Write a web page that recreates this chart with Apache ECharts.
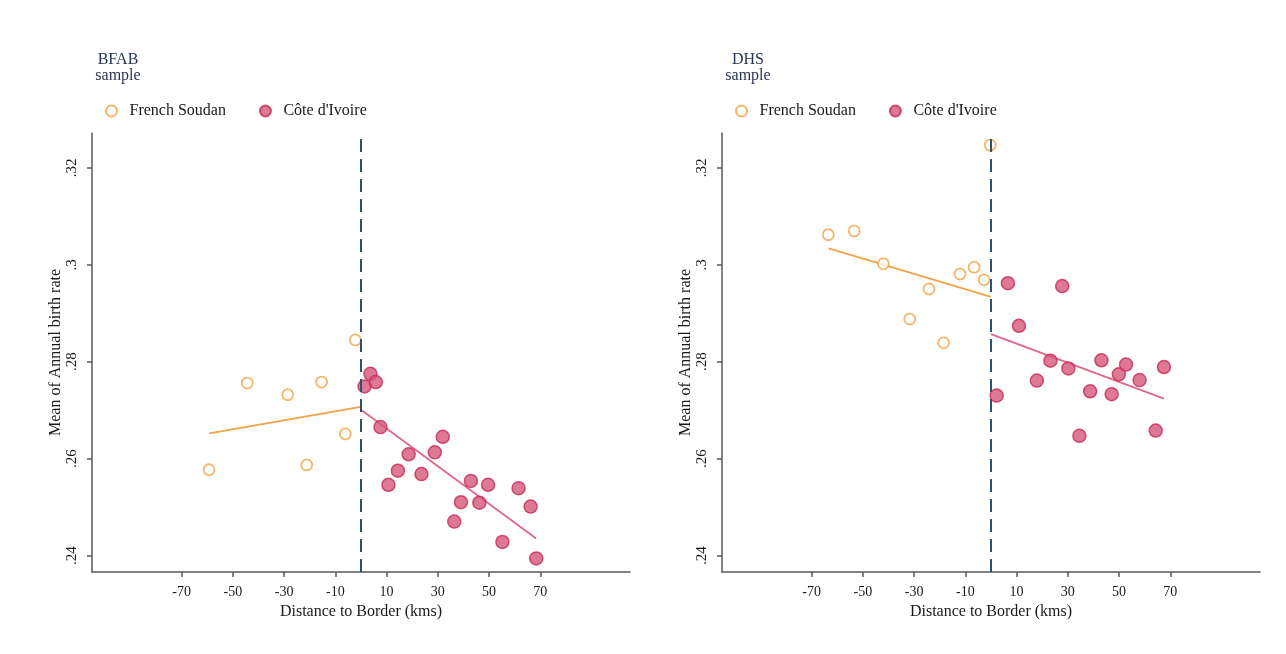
<!DOCTYPE html>
<html>
<head>
<meta charset="utf-8">
<script src="https://cdn.jsdelivr.net/npm/echarts@6/dist/echarts.min.js"></script>
<style>
  html, body { margin: 0; padding: 0; background: #ffffff; }
  #chart { width: 1286px; height: 654px; }
</style>
</head>
<body>
<div id="chart"></div>
<script>
// ---- data ----
const xTickValues = [-70, -50, -30, -10, 10, 30, 50, 70];
const yTickValues = [0.24, 0.26, 0.28, 0.30, 0.32];
const yTickLabels = ['.24', '.26', '.28', '.3', '.32'];
const seriesNames = ['French Soudan', "Côte d'Ivoire"];
const panelTitles = ['BFAB\nsample', 'DHS\nsample'];
const xAxisTitle = 'Distance to Border (kms)';
const yAxisTitle = 'Mean of Annual birth rate';

// BFAB sample
const bfabSoudan = [
  [-59.3, 0.2577], [-44.4, 0.2756], [-28.6, 0.2732], [-21.2, 0.2587],
  [-15.4, 0.2758], [-6.1, 0.2651], [-2.2, 0.2845]
];
const bfabIvoire = [
  [1.4, 0.2749], [3.7, 0.2775], [5.8, 0.2758], [7.6, 0.2665], [10.7, 0.2546],
  [14.4, 0.2575], [18.6, 0.2609], [23.6, 0.2568], [28.8, 0.2613], [31.9, 0.2645],
  [36.4, 0.2470], [39.0, 0.2510], [42.9, 0.2554], [46.2, 0.2509], [49.6, 0.2546],
  [55.2, 0.2428], [61.5, 0.2539], [66.2, 0.2501], [68.4, 0.2394]
];
const bfabSoudanFit = [[-59.2, 0.2652], [-0.1, 0.2707]];
const bfabIvoireFit = [[0.0, 0.2701], [68.4, 0.2435]];

// DHS sample
const dhsSoudan = [
  [-63.5, 0.3062], [-53.4, 0.3070], [-42.0, 0.3002], [-31.7, 0.2888],
  [-24.2, 0.2950], [-18.5, 0.2839], [-12.1, 0.2981], [-6.6, 0.2995],
  [-2.7, 0.2969], [-0.3, 0.3247]
];
const dhsIvoire = [
  [2.2, 0.2730], [6.6, 0.2962], [10.9, 0.2874], [17.9, 0.2761], [23.2, 0.2802],
  [27.8, 0.2956], [30.2, 0.2786], [34.5, 0.2647], [38.7, 0.2739], [43.1, 0.2803],
  [47.1, 0.2733], [49.9, 0.2774], [52.7, 0.2794], [58.0, 0.2762], [64.3, 0.2658],
  [67.5, 0.2789]
];
const dhsSoudanFit = [[-63.3, 0.3034], [0.0, 0.2934]];
const dhsIvoireFit = [[0.0, 0.2857], [67.5, 0.2724]];

// ---- styles ----
const FONT = '"Liberation Serif", "Times New Roman", serif';
const ORANGE = '#f0a447';
const RED_FILL = '#d4577a';
const RED_BORDER = '#c52a52';
const RED_LINE = '#e0678a';
const AXIS_COLOR = '#5a5a5a';
const TEXT_COLOR = '#1a1a1a';
const NAVY = '#2a3556';
const DASH_COLOR = '#2f5073';

const grids = [
  { left: 92, right: 656, top: 133, bottom: 82 },
  { left: 722, right: 26, top: 133, bottom: 82 }
];

function xAxisFor(i) {
  return {
    gridIndex: i, type: 'value', min: -105, max: 105,
    name: xAxisTitle, nameLocation: 'middle', nameGap: 26,
    nameTextStyle: { fontFamily: FONT, fontSize: 16, color: TEXT_COLOR },
    axisLine: { show: true, onZero: false, lineStyle: { color: AXIS_COLOR, width: 1.5 } },
    axisTick: { show: true, length: 5, customValues: xTickValues, lineStyle: { color: AXIS_COLOR, width: 1.5 } },
    axisLabel: { customValues: xTickValues, margin: 13, fontFamily: FONT, fontSize: 14, color: TEXT_COLOR },
    splitLine: { show: false }
  };
}
function yAxisFor(i) {
  return {
    gridIndex: i, type: 'value', min: 0.2366, max: 0.3272,
    name: yAxisTitle, nameLocation: 'middle', nameGap: 27,
    nameTextStyle: { fontFamily: FONT, fontSize: 16, color: TEXT_COLOR },
    axisLine: { show: true, onZero: false, lineStyle: { color: AXIS_COLOR, width: 1.5 } },
    axisTick: { show: true, length: 5, customValues: yTickValues, lineStyle: { color: AXIS_COLOR, width: 1.5 } },
    axisLabel: {
      customValues: yTickValues, rotate: 90, margin: 12,
      fontFamily: FONT, fontSize: 15, color: TEXT_COLOR,
      formatter: function (v) {
        const idx = yTickValues.findIndex(t => Math.abs(t - v) < 1e-9);
        return idx >= 0 ? yTickLabels[idx] : '';
      }
    },
    splitLine: { show: false }
  };
}

function panelSeries(i, soudan, ivoire, soudanFit, ivoireFit) {
  return [
    {
      name: seriesNames[1] + '_fit', type: 'line', xAxisIndex: i, yAxisIndex: i,
      data: ivoireFit, symbol: 'none', silent: true,
      lineStyle: { color: RED_LINE, width: 1.8 }, z: 2
    },
    {
      name: seriesNames[0] + '_fit', type: 'line', xAxisIndex: i, yAxisIndex: i,
      data: soudanFit, symbol: 'none', silent: true,
      lineStyle: { color: ORANGE, width: 1.8 }, z: 2,
      markLine: {
        silent: true, symbol: 'none', label: { show: false },
        lineStyle: { color: DASH_COLOR, width: 2, type: [13, 7] },
        data: [{ xAxis: 0 }], animation: false
      }
    },
    {
      name: seriesNames[0], type: 'scatter', xAxisIndex: i, yAxisIndex: i,
      data: soudan, symbol: 'circle', symbolSize: 11,
      itemStyle: { color: '#ffffff', borderColor: ORANGE, borderWidth: 1.8 }, z: 3
    },
    {
      name: seriesNames[1], type: 'scatter', xAxisIndex: i, yAxisIndex: i,
      data: ivoire, symbol: 'circle', symbolSize: 13,
      itemStyle: { color: RED_FILL, borderColor: RED_BORDER, borderWidth: 1.5 }, z: 3
    }
  ];
}

function legendFor(left) {
  return {
    left: left, top: 98, orient: 'horizontal',
    data: seriesNames, itemWidth: 26, itemHeight: 11, itemGap: 33,
    icon: 'circle',
    textStyle: { fontFamily: FONT, fontSize: 16, color: TEXT_COLOR },
    selectedMode: false
  };
}

const option = {
  backgroundColor: '#ffffff',
  animation: false,
  title: [
    { text: panelTitles[0], left: 113, top: 47, textAlign: 'center',
      textStyle: { fontFamily: FONT, fontSize: 16, fontWeight: 'normal', color: NAVY, lineHeight: 16 } },
    { text: panelTitles[1], left: 743, top: 47, textAlign: 'center',
      textStyle: { fontFamily: FONT, fontSize: 16, fontWeight: 'normal', color: NAVY, lineHeight: 16 } }
  ],
  legend: [legendFor(100), legendFor(730)],
  grid: grids,
  xAxis: [xAxisFor(0), xAxisFor(1)],
  yAxis: [yAxisFor(0), yAxisFor(1)],
  series: [].concat(
    panelSeries(0, bfabSoudan, bfabIvoire, bfabSoudanFit, bfabIvoireFit),
    panelSeries(1, dhsSoudan, dhsIvoire, dhsSoudanFit, dhsIvoireFit)
  )
};

const chart = echarts.init(document.getElementById('chart'), null, { renderer: 'canvas' });
chart.setOption(option);
</script>
</body>
</html>
